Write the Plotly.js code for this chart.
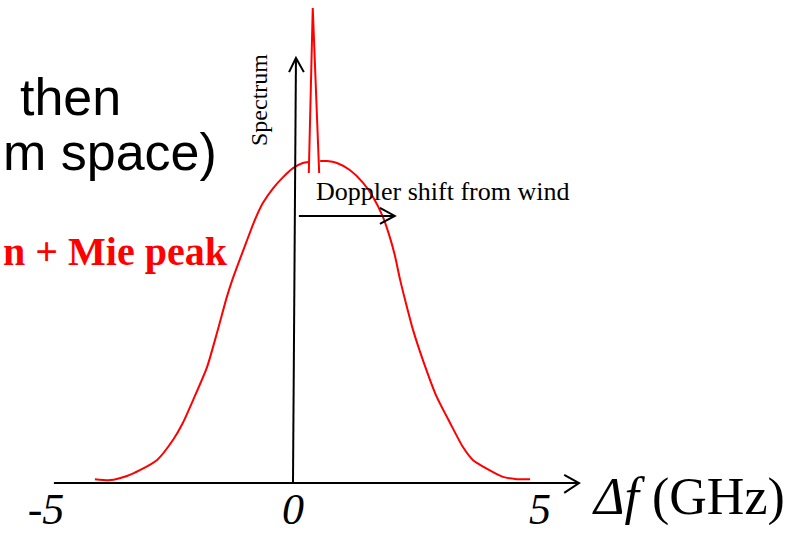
<!DOCTYPE html>
<html>
<head>
<meta charset="utf-8">
<script src="https://cdn.plot.ly/plotly-3.0.1.min.js"></script>
<style>html,body{margin:0;padding:0;background:#fff;}#chart{width:807px;height:535px;}</style>
</head>
<body>
<div id="chart"></div>
<script>
// Broad Rayleigh-Brillouin spectrum (left and right of Mie peak), frequency shift in GHz
const broadFreq = [-4.01,-3.70,-3.36,-3.10,-2.75,-2.43,-2.23,-2.02,-1.74,-1.54,-1.34,-1.23,-1.08,-0.95,-0.79,-0.61,-0.40,-0.20,0.00,0.20,0.32,
  null,
  0.55,0.69,0.89,1.15,1.42,1.62,1.82,1.96,2.06,2.17,2.27,2.43,2.63,2.91,3.18,3.44,3.64,3.93,4.25,4.53,4.80];
const broadSpec = [0.012,0.009,0.022,0.040,0.072,0.134,0.187,0.259,0.361,0.467,0.579,0.632,0.695,0.748,0.813,0.872,0.919,0.953,0.981,0.997,1.000,
  null,
  1.003,1.003,0.997,0.975,0.935,0.891,0.829,0.766,0.710,0.632,0.570,0.477,0.383,0.268,0.187,0.112,0.072,0.044,0.019,0.012,0.012];
// Narrow Mie peak
const mieFreq = [0.32, 0.40, 0.53];
const mieSpec = [0.966, 1.480, 0.966];
// Tick labels
const tickVals = [-5, 0, 5];
const tickText = ['-5', '0', '5'];
// Axis arrows (diagram decorations)
const xAxisFreq = [-4.84, 5.79];
const yAxisTop = 1.324;
const dopplerFreq = [0.12, 2.06];
const dopplerLevel = 0.832;

const W = 807, H = 535;
const px = v => v / W;
const py = v => 1 - v / H;

const traces = [
  {x: broadFreq, y: broadSpec, mode: 'lines', line: {color: '#ff0000', width: 2, shape: 'spline', smoothing: 0.6}, connectgaps: false, hoverinfo: 'skip'},
  {x: mieFreq, y: mieSpec, mode: 'lines', line: {color: '#ff0000', width: 2}, hoverinfo: 'skip'}
];

const blk = {color: '#000', width: 2};
const shapes = [
  // x axis + arrowhead
  {type: 'line', xref: 'x', yref: 'y', x0: xAxisFreq[0], x1: xAxisFreq[1], y0: 0, y1: 0, line: blk},
  {type: 'path', xref: 'x', yref: 'y', path: `M ${xAxisFreq[1]-0.30},0.025 L ${xAxisFreq[1]},0 L ${xAxisFreq[1]-0.30},-0.031`, line: blk},
  // y axis + arrowhead
  {type: 'line', xref: 'x', yref: 'y', x0: 0, x1: 0.06, y0: 0, y1: yAxisTop, line: blk},
  {type: 'path', xref: 'x', yref: 'y', path: `M -0.08,${yAxisTop-0.044} L 0.06,${yAxisTop} L 0.22,${yAxisTop-0.044}`, line: blk},
  // Doppler shift arrow
  {type: 'line', xref: 'x', yref: 'y', x0: dopplerFreq[0], x1: dopplerFreq[1], y0: dopplerLevel, y1: dopplerLevel, line: blk},
  {type: 'path', xref: 'x', yref: 'y', path: `M ${dopplerFreq[1]-0.30},${dopplerLevel+0.025} L ${dopplerFreq[1]},${dopplerLevel} L ${dopplerFreq[1]-0.30},${dopplerLevel-0.025}`, line: blk}
];

const sans = 'Liberation Sans, Arial, sans-serif';
const serif = 'Liberation Serif, Times New Roman, serif';
const annotations = [
  {text: 'then', xref: 'paper', yref: 'paper', x: px(123), y: py(97), xanchor: 'right', yanchor: 'middle', showarrow: false, font: {family: sans, size: 52, color: '#000'}},
  {text: 'm space)', xref: 'paper', yref: 'paper', x: px(219), y: py(152), xanchor: 'right', yanchor: 'middle', showarrow: false, font: {family: sans, size: 52, color: '#000'}},
  {text: 'n + Mie peak', xref: 'paper', yref: 'paper', x: px(230), y: py(251), xanchor: 'right', yanchor: 'middle', showarrow: false, font: {family: serif, size: 40, color: '#ff0000', weight: 'bold'}},
  {text: 'Spectrum', xref: 'paper', yref: 'paper', x: px(259), y: py(100), xanchor: 'center', yanchor: 'middle', textangle: -90, showarrow: false, font: {family: serif, size: 24, color: '#000'}},
  {text: 'Doppler shift from wind', xref: 'paper', yref: 'paper', x: px(314), y: py(191), xanchor: 'left', yanchor: 'middle', showarrow: false, font: {family: serif, size: 26, color: '#000'}},
  {text: '<i>Δf</i> (GHz)', xref: 'paper', yref: 'paper', x: px(590), y: py(497), xanchor: 'left', yanchor: 'middle', showarrow: false, font: {family: serif, size: 52, color: '#000'}}
];

const layout = {
  width: W, height: H,
  margin: {l: 0, r: 0, t: 0, b: 0, pad: 0},
  paper_bgcolor: '#fff', plot_bgcolor: '#fff',
  showlegend: false,
  xaxis: {range: [-5.931, 10.405], showgrid: false, zeroline: false, showline: false, ticks: '',
    tickvals: tickVals, ticktext: tickText, anchor: 'free', position: 52 / H, ticklabelstandoff: -4,
    tickfont: {family: serif, size: 44, color: '#000', style: 'italic'}, fixedrange: true},
  yaxis: {range: [-0.162, 1.5047], visible: false, fixedrange: true},
  shapes: shapes,
  annotations: annotations
};

Plotly.newPlot('chart', traces, layout, {displayModeBar: false, staticPlot: true});
</script>
</body>
</html>
